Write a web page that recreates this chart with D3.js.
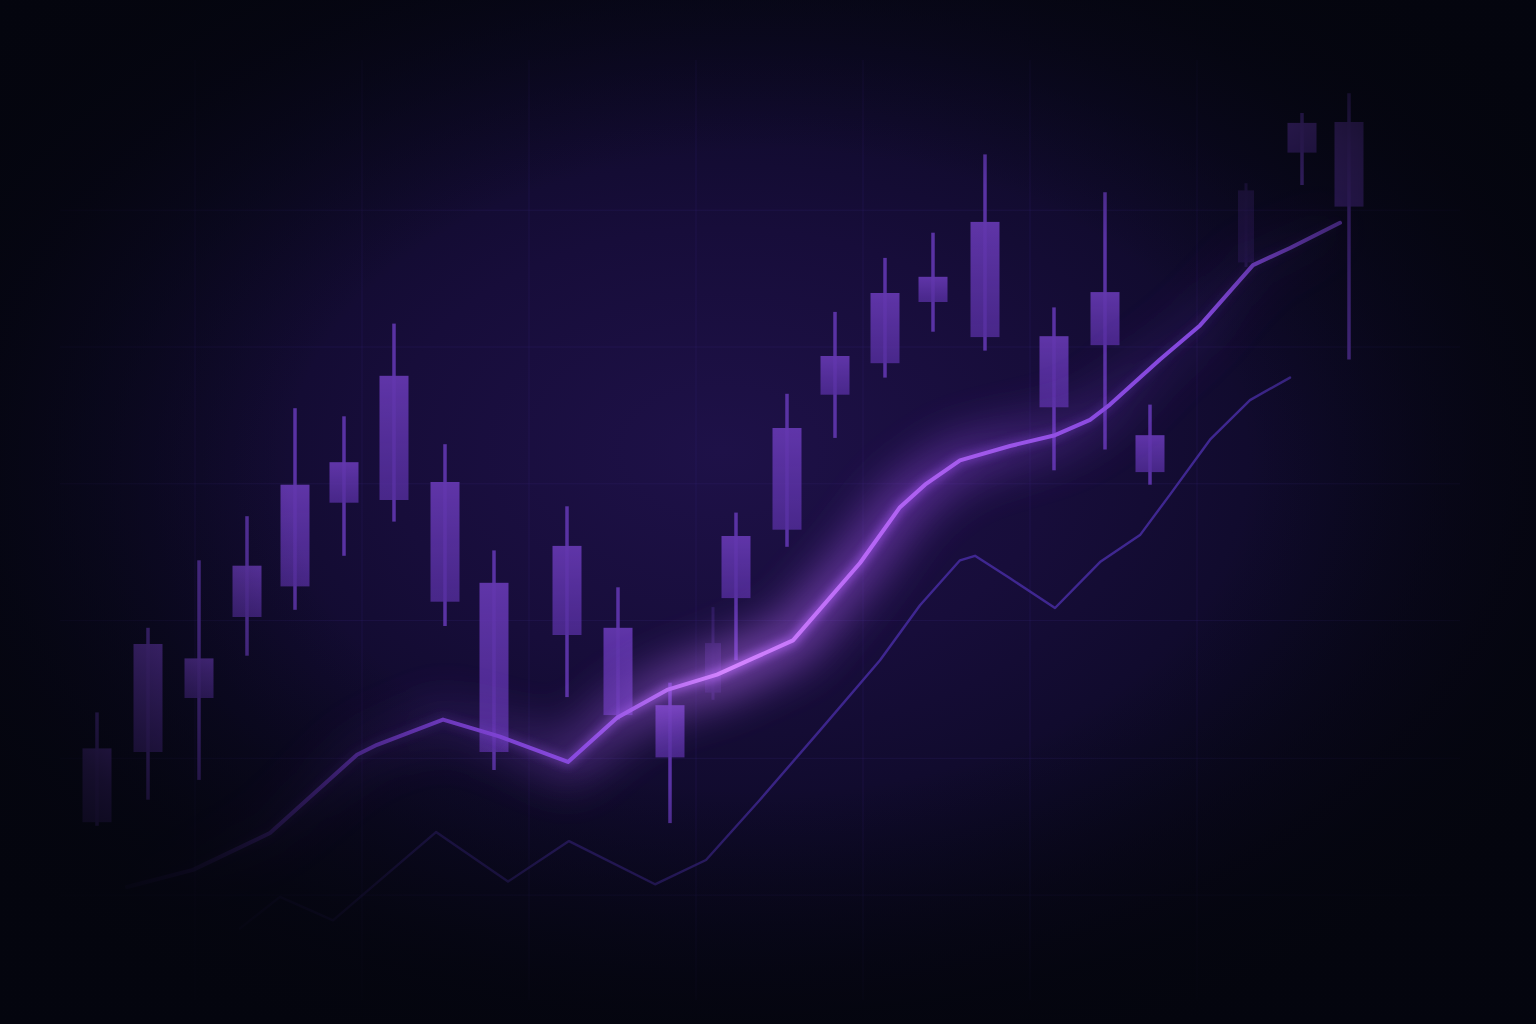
<!DOCTYPE html>
<html>
<head>
<meta charset="utf-8">
<script src="https://cdn.jsdelivr.net/npm/d3@7"></script>
<style>
  html, body { margin: 0; padding: 0; background: #06071a; overflow: hidden; }
  svg { display: block; }
</style>
</head>
<body>
<svg id="chart" width="1536" height="1024"></svg>
<script>
// ---- data (day index, prices) ----
const candleDays  = [0, 1.02, 2.04, 3.0, 3.96, 4.94, 5.94, 6.96, 7.94, 9.4, 10.42, 11.46, 12.78, 13.8, 14.76, 15.76, 16.72, 17.76, 19.14, 20.16, 21.06, 24.1, 25.04];
const candleHigh  = [26.4, 35.8, 43.3, 48.2, 60.2, 59.3, 69.6, 56.2, 44.4, 49.3, 40.3, 29.7, 48.6, 61.8, 70.9, 76.9, 79.7, 88.4, 71.4, 84.2, 60.6, 93.0, 95.2];
const candleOpen  = [14.2, 22.0, 28.0, 37.0, 40.4, 49.7, 50.0, 38.7, 22.0, 35.0, 26.1, 21.4, 39.1, 46.7, 61.7, 65.2, 72.0, 68.1, 60.3, 67.2, 53.1, 88.6, 82.6];
const candleClose = [22.4, 34.0, 32.4, 42.7, 51.7, 54.2, 63.8, 52.0, 40.8, 44.9, 35.8, 27.2, 46.0, 58.0, 66.0, 73.0, 74.8, 80.9, 68.2, 73.1, 57.2, 91.9, 92.0];
const candleLow   = [13.8, 16.7, 18.9, 32.7, 37.8, 43.8, 47.6, 36.0, 20.0, 28.1, 25.6, 14.1, 32.2, 44.8, 56.9, 63.6, 68.7, 66.6, 53.3, 55.6, 51.7, 85.0, 65.6];

// faint "ghost" candles
const ghostDays  = [12.32, 22.98];
const ghostHigh  = [38.1, 85.2];
const ghostOpen  = [28.6, 76.4];
const ghostClose = [34.1, 84.4];
const ghostLow   = [27.8, 75.9];

// moving average lines
const maFastDays   = [0.6, 1.92, 3.46, 5.2, 5.6, 6.92, 8.06, 9.42, 10.4, 11.4, 12.4, 13.12, 13.92, 15.26, 16.06, 16.56, 17.26, 18.26, 19.16, 19.86, 20.26, 21.26, 22.06, 23.12, 23.86, 24.86];
const maFastValues = [7.0, 8.9, 13.0, 21.7, 22.8, 25.6, 23.7, 20.9, 25.8, 28.9, 30.6, 32.4, 34.4, 43.0, 49.2, 51.7, 54.4, 56.0, 57.2, 58.9, 60.6, 65.6, 69.4, 76.1, 78.0, 80.8];
const maSlowDays   = [2.86, 3.66, 4.72, 6.78, 8.22, 9.44, 11.16, 12.18, 13.26, 14.46, 15.66, 16.46, 17.26, 17.56, 18.26, 19.16, 20.06, 20.86, 21.46, 22.26, 23.06, 23.86];
const maSlowValues = [2.4, 5.9, 3.3, 13.1, 7.6, 12.1, 7.3, 10.0, 16.7, 24.4, 32.2, 38.3, 43.3, 43.8, 41.3, 38.0, 43.1, 46.1, 50.6, 56.7, 61.1, 63.6];

// grid ticks
const gridDays   = [1.96, 5.3, 8.64, 11.98, 15.32, 18.66, 22.0];
const gridPrices = [82.2, 67.0, 51.8, 36.6, 21.3, 6.1];

// ---- build ----
const W = 1536, H = 1024;
const svg = d3.select("#chart");
const x = d3.scaleLinear().domain([0, 25]).range([97, 1347]);
const y = d3.scaleLinear().domain([0, 100]).range([950, 50]);

const defs = svg.append("defs");

const bg = defs.append("radialGradient").attr("id", "bg")
  .attr("cx", "47%").attr("cy", "44%").attr("r", "62%");
[[0, "#1e1148"], [0.35, "#170d3a"], [0.65, "#0e0a28"], [1, "#05060f"]]
  .forEach(([o, c]) => bg.append("stop").attr("offset", o).attr("stop-color", c));

const vg = defs.append("radialGradient").attr("id", "vig")
  .attr("cx", "50%").attr("cy", "46%").attr("r", "60%");
[[0, 0], [0.52, 0], [0.72, 0.45], [0.88, 0.78], [1, 0.92]]
  .forEach(([o, a]) => vg.append("stop").attr("offset", o).attr("stop-color", "#04050e").attr("stop-opacity", a));

const cb = defs.append("linearGradient").attr("id", "body").attr("x1", 0).attr("y1", 0).attr("x2", 0).attr("y2", 1);
cb.append("stop").attr("offset", 0).attr("stop-color", "#6a3bb8").attr("stop-opacity", 0.95);
cb.append("stop").attr("offset", 1).attr("stop-color", "#5a31a6").attr("stop-opacity", 0.8);

const lg = defs.append("linearGradient").attr("id", "lineGrad")
  .attr("gradientUnits", "userSpaceOnUse").attr("x1", 110).attr("y1", 0).attr("x2", 1345).attr("y2", 0);
[[0, "#3b2080", 0.3], [0.2, "#6a36c0", 0.85], [0.38, "#8a4ae0", 1], [0.5, "#d585ff", 1], [0.62, "#b565f5", 1], [0.8, "#8a4ae0", 1], [1, "#7a44d8", 1]]
  .forEach(([o, c, a]) => lg.append("stop").attr("offset", o).attr("stop-color", c).attr("stop-opacity", a));

const gg = defs.append("linearGradient").attr("id", "glowGrad")
  .attr("gradientUnits", "userSpaceOnUse").attr("x1", 110).attr("y1", 0).attr("x2", 1345).attr("y2", 0);
[[0, "#6a36c0", 0], [0.3, "#8a4ae0", 0.2], [0.5, "#c070ff", 0.75], [0.65, "#a050f0", 0.6], [0.85, "#7a40d8", 0.15], [1, "#7a40d8", 0.05]]
  .forEach(([o, c, a]) => gg.append("stop").attr("offset", o).attr("stop-color", c).attr("stop-opacity", a));

const sg = defs.append("linearGradient").attr("id", "slowGrad")
  .attr("gradientUnits", "userSpaceOnUse").attr("x1", 230).attr("y1", 0).attr("x2", 1295).attr("y2", 0);
[[0, "#2e1d66", 0.25], [0.2, "#3a2585", 0.6], [0.6, "#43299a", 0.9], [1, "#4a2ea8", 0.8]]
  .forEach(([o, c, a]) => sg.append("stop").attr("offset", o).attr("stop-color", c).attr("stop-opacity", a));

const blurBig = defs.append("filter").attr("id", "blurBig").attr("x", "-20%").attr("y", "-50%").attr("width", "140%").attr("height", "200%");
blurBig.append("feGaussianBlur").attr("stdDeviation", 22);
const blurSmall = defs.append("filter").attr("id", "blurSmall").attr("x", "-20%").attr("y", "-50%").attr("width", "140%").attr("height", "200%");
blurSmall.append("feGaussianBlur").attr("stdDeviation", 4);

svg.append("rect").attr("width", W).attr("height", H).attr("fill", "url(#bg)");

const grid = svg.append("g").attr("stroke", "#3a2a80").attr("stroke-opacity", 0.22).attr("stroke-width", 1);
grid.selectAll("line.v").data(gridDays).join("line").attr("class", "v")
  .attr("x1", d => x(d)).attr("x2", d => x(d)).attr("y1", 60).attr("y2", 1000);
grid.selectAll("line.h").data(gridPrices).join("line").attr("class", "h")
  .attr("y1", d => y(d)).attr("y2", d => y(d)).attr("x1", 60).attr("x2", 1460);

const candles = candleDays.map((d, i) => ({ d, h: candleHigh[i], o: candleOpen[i], c: candleClose[i], l: candleLow[i] }));
const ghosts = ghostDays.map((d, i) => ({ d, h: ghostHigh[i], o: ghostOpen[i], c: ghostClose[i], l: ghostLow[i] }));
const bodyW = 29;

function drawCandles(data, g, w, wickW) {
  const c = g.selectAll("g").data(data).join("g");
  c.append("line")
    .attr("x1", d => x(d.d)).attr("x2", d => x(d.d))
    .attr("y1", d => y(d.h)).attr("y2", d => y(d.l))
    .attr("stroke", "#5f36ad").attr("stroke-width", wickW);
  c.append("rect")
    .attr("x", d => x(d.d) - w / 2).attr("width", w)
    .attr("y", d => y(Math.max(d.o, d.c)))
    .attr("height", d => Math.abs(y(d.o) - y(d.c)))
    .attr("fill", "url(#body)");
}
drawCandles(ghosts, svg.append("g").attr("opacity", 0.28), 16, 3);
drawCandles(candles, svg.append("g").attr("opacity", 0.92), bodyW, 3.5);

const line = d3.line().x(d => x(d[0])).y(d => y(d[1])).curve(d3.curveLinear);
const fast = maFastDays.map((d, i) => [d, maFastValues[i]]);
const slow = maSlowDays.map((d, i) => [d, maSlowValues[i]]);

svg.append("path").attr("d", line(slow)).attr("fill", "none")
  .attr("stroke", "url(#slowGrad)").attr("stroke-width", 2.4)
  .attr("stroke-linejoin", "round").attr("stroke-linecap", "round");

svg.append("path").attr("d", line(fast)).attr("fill", "none")
  .attr("stroke", "url(#glowGrad)").attr("stroke-width", 46)
  .attr("filter", "url(#blurBig)").attr("opacity", 0.8);
svg.append("path").attr("d", line(fast)).attr("fill", "none")
  .attr("stroke", "url(#glowGrad)").attr("stroke-width", 10)
  .attr("filter", "url(#blurSmall)").attr("opacity", 0.9);
svg.append("path").attr("d", line(fast)).attr("fill", "none")
  .attr("stroke", "url(#lineGrad)").attr("stroke-width", 4)
  .attr("stroke-linejoin", "round").attr("stroke-linecap", "round");

svg.append("rect").attr("width", W).attr("height", H).attr("fill", "url(#vig)");
</script>
</body>
</html>
